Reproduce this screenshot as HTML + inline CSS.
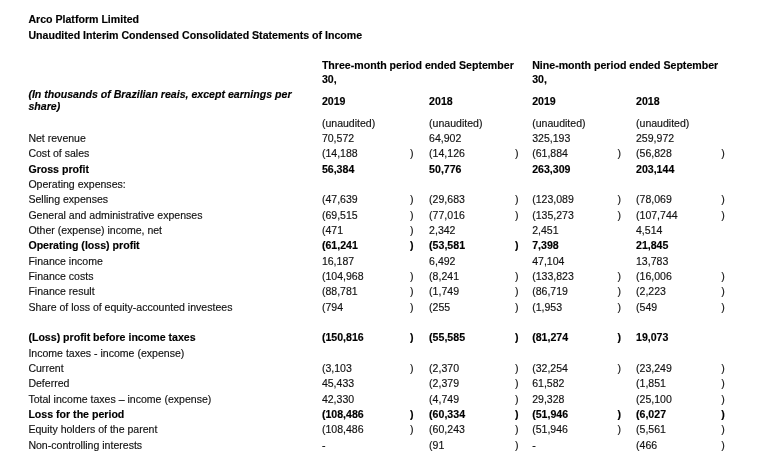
<!DOCTYPE html>
<html><head><meta charset="utf-8"><style>
html,body{margin:0;padding:0;background:#fff;}
body{width:763px;height:462px;overflow:hidden;position:relative;font-family:"Liberation Sans",Arial,sans-serif;font-size:10.56px;line-height:12px;color:#111;}
#w{position:absolute;left:0;top:0;width:763px;height:462px;will-change:transform;-webkit-text-stroke:0.15px #111;color:#111;}
#w div{position:absolute;white-space:nowrap;}
.b{font-weight:bold;font-size:10.6px;-webkit-text-stroke:0.15px #000;color:#000;}
.bi{font-weight:bold;font-style:italic;font-size:10.6px;-webkit-text-stroke:0.15px #000;color:#000;}
</style></head><body><div id="w">
<div class="b" style="left:28.40px;top:13.03px">Arco Platform Limited</div>
<div class="b" style="left:28.40px;top:29.03px">Unaudited Interim Condensed Consolidated Statements of Income</div>
<div class="b" style="left:321.90px;top:59.03px">Three-month period ended September</div>
<div class="b" style="left:321.90px;top:73.03px">30,</div>
<div class="b" style="left:532.20px;top:59.03px">Nine-month period ended September</div>
<div class="b" style="left:532.20px;top:73.03px">30,</div>
<div class="bi" style="left:28.40px;top:88.03px">(In thousands of Brazilian reais, except earnings per</div>
<div class="bi" style="left:28.40px;top:100.03px">share)</div>
<div class="b" style="left:321.90px;top:95.03px">2019</div>
<div class="b" style="left:429.10px;top:95.03px">2018</div>
<div class="b" style="left:532.20px;top:95.03px">2019</div>
<div class="b" style="left:636.00px;top:95.03px">2018</div>
<div style="left:321.90px;top:117.04px">(unaudited)</div>
<div style="left:429.10px;top:117.04px">(unaudited)</div>
<div style="left:532.20px;top:117.04px">(unaudited)</div>
<div style="left:636.00px;top:117.04px">(unaudited)</div>
<div style="left:28.40px;top:132.04px">Net revenue</div>
<div style="left:321.90px;top:132.04px">70,572</div>
<div style="left:429.10px;top:132.04px">64,902</div>
<div style="left:532.20px;top:132.04px">325,193</div>
<div style="left:636.00px;top:132.04px">259,972</div>
<div style="left:28.40px;top:147.04px">Cost of sales</div>
<div style="left:321.90px;top:147.04px">(14,188</div>
<div style="left:410.00px;top:147.04px">)</div>
<div style="left:429.10px;top:147.04px">(14,126</div>
<div style="left:515.00px;top:147.04px">)</div>
<div style="left:532.20px;top:147.04px">(61,884</div>
<div style="left:617.50px;top:147.04px">)</div>
<div style="left:636.00px;top:147.04px">(56,828</div>
<div style="left:721.30px;top:147.04px">)</div>
<div class="b" style="left:28.40px;top:163.03px">Gross profit</div>
<div class="b" style="left:321.90px;top:163.03px">56,384</div>
<div class="b" style="left:429.10px;top:163.03px">50,776</div>
<div class="b" style="left:532.20px;top:163.03px">263,309</div>
<div class="b" style="left:636.00px;top:163.03px">203,144</div>
<div style="left:28.40px;top:178.04px">Operating expenses:</div>
<div style="left:28.40px;top:193.04px">Selling expenses</div>
<div style="left:321.90px;top:193.04px">(47,639</div>
<div style="left:410.00px;top:193.04px">)</div>
<div style="left:429.10px;top:193.04px">(29,683</div>
<div style="left:515.00px;top:193.04px">)</div>
<div style="left:532.20px;top:193.04px">(123,089</div>
<div style="left:617.50px;top:193.04px">)</div>
<div style="left:636.00px;top:193.04px">(78,069</div>
<div style="left:721.30px;top:193.04px">)</div>
<div style="left:28.40px;top:209.04px">General and administrative expenses</div>
<div style="left:321.90px;top:209.04px">(69,515</div>
<div style="left:410.00px;top:209.04px">)</div>
<div style="left:429.10px;top:209.04px">(77,016</div>
<div style="left:515.00px;top:209.04px">)</div>
<div style="left:532.20px;top:209.04px">(135,273</div>
<div style="left:617.50px;top:209.04px">)</div>
<div style="left:636.00px;top:209.04px">(107,744</div>
<div style="left:721.30px;top:209.04px">)</div>
<div style="left:28.40px;top:224.04px">Other (expense) income, net</div>
<div style="left:321.90px;top:224.04px">(471</div>
<div style="left:410.00px;top:224.04px">)</div>
<div style="left:429.10px;top:224.04px">2,342</div>
<div style="left:532.20px;top:224.04px">2,451</div>
<div style="left:636.00px;top:224.04px">4,514</div>
<div class="b" style="left:28.40px;top:239.03px">Operating (loss) profit</div>
<div class="b" style="left:321.90px;top:239.03px">(61,241</div>
<div class="b" style="left:410.00px;top:239.03px">)</div>
<div class="b" style="left:429.10px;top:239.03px">(53,581</div>
<div class="b" style="left:515.00px;top:239.03px">)</div>
<div class="b" style="left:532.20px;top:239.03px">7,398</div>
<div class="b" style="left:636.00px;top:239.03px">21,845</div>
<div style="left:28.40px;top:255.04px">Finance income</div>
<div style="left:321.90px;top:255.04px">16,187</div>
<div style="left:429.10px;top:255.04px">6,492</div>
<div style="left:532.20px;top:255.04px">47,104</div>
<div style="left:636.00px;top:255.04px">13,783</div>
<div style="left:28.40px;top:270.04px">Finance costs</div>
<div style="left:321.90px;top:270.04px">(104,968</div>
<div style="left:410.00px;top:270.04px">)</div>
<div style="left:429.10px;top:270.04px">(8,241</div>
<div style="left:515.00px;top:270.04px">)</div>
<div style="left:532.20px;top:270.04px">(133,823</div>
<div style="left:617.50px;top:270.04px">)</div>
<div style="left:636.00px;top:270.04px">(16,006</div>
<div style="left:721.30px;top:270.04px">)</div>
<div style="left:28.40px;top:285.04px">Finance result</div>
<div style="left:321.90px;top:285.04px">(88,781</div>
<div style="left:410.00px;top:285.04px">)</div>
<div style="left:429.10px;top:285.04px">(1,749</div>
<div style="left:515.00px;top:285.04px">)</div>
<div style="left:532.20px;top:285.04px">(86,719</div>
<div style="left:617.50px;top:285.04px">)</div>
<div style="left:636.00px;top:285.04px">(2,223</div>
<div style="left:721.30px;top:285.04px">)</div>
<div style="left:28.40px;top:301.04px">Share of loss of equity-accounted investees</div>
<div style="left:321.90px;top:301.04px">(794</div>
<div style="left:410.00px;top:301.04px">)</div>
<div style="left:429.10px;top:301.04px">(255</div>
<div style="left:515.00px;top:301.04px">)</div>
<div style="left:532.20px;top:301.04px">(1,953</div>
<div style="left:617.50px;top:301.04px">)</div>
<div style="left:636.00px;top:301.04px">(549</div>
<div style="left:721.30px;top:301.04px">)</div>
<div class="b" style="left:28.40px;top:331.03px">(Loss) profit before income taxes</div>
<div class="b" style="left:321.90px;top:331.03px">(150,816</div>
<div class="b" style="left:410.00px;top:331.03px">)</div>
<div class="b" style="left:429.10px;top:331.03px">(55,585</div>
<div class="b" style="left:515.00px;top:331.03px">)</div>
<div class="b" style="left:532.20px;top:331.03px">(81,274</div>
<div class="b" style="left:617.50px;top:331.03px">)</div>
<div class="b" style="left:636.00px;top:331.03px">19,073</div>
<div style="left:28.40px;top:347.04px">Income taxes - income (expense)</div>
<div style="left:28.40px;top:362.04px">Current</div>
<div style="left:321.90px;top:362.04px">(3,103</div>
<div style="left:410.00px;top:362.04px">)</div>
<div style="left:429.10px;top:362.04px">(2,370</div>
<div style="left:515.00px;top:362.04px">)</div>
<div style="left:532.20px;top:362.04px">(32,254</div>
<div style="left:617.50px;top:362.04px">)</div>
<div style="left:636.00px;top:362.04px">(23,249</div>
<div style="left:721.30px;top:362.04px">)</div>
<div style="left:28.40px;top:377.04px">Deferred</div>
<div style="left:321.90px;top:377.04px">45,433</div>
<div style="left:429.10px;top:377.04px">(2,379</div>
<div style="left:515.00px;top:377.04px">)</div>
<div style="left:532.20px;top:377.04px">61,582</div>
<div style="left:636.00px;top:377.04px">(1,851</div>
<div style="left:721.30px;top:377.04px">)</div>
<div style="left:28.40px;top:393.04px">Total income taxes – income (expense)</div>
<div style="left:321.90px;top:393.04px">42,330</div>
<div style="left:429.10px;top:393.04px">(4,749</div>
<div style="left:515.00px;top:393.04px">)</div>
<div style="left:532.20px;top:393.04px">29,328</div>
<div style="left:636.00px;top:393.04px">(25,100</div>
<div style="left:721.30px;top:393.04px">)</div>
<div class="b" style="left:28.40px;top:408.03px">Loss for the period</div>
<div class="b" style="left:321.90px;top:408.03px">(108,486</div>
<div class="b" style="left:410.00px;top:408.03px">)</div>
<div class="b" style="left:429.10px;top:408.03px">(60,334</div>
<div class="b" style="left:515.00px;top:408.03px">)</div>
<div class="b" style="left:532.20px;top:408.03px">(51,946</div>
<div class="b" style="left:617.50px;top:408.03px">)</div>
<div class="b" style="left:636.00px;top:408.03px">(6,027</div>
<div class="b" style="left:721.30px;top:408.03px">)</div>
<div style="left:28.40px;top:423.04px">Equity holders of the parent</div>
<div style="left:321.90px;top:423.04px">(108,486</div>
<div style="left:410.00px;top:423.04px">)</div>
<div style="left:429.10px;top:423.04px">(60,243</div>
<div style="left:515.00px;top:423.04px">)</div>
<div style="left:532.20px;top:423.04px">(51,946</div>
<div style="left:617.50px;top:423.04px">)</div>
<div style="left:636.00px;top:423.04px">(5,561</div>
<div style="left:721.30px;top:423.04px">)</div>
<div style="left:28.40px;top:439.04px">Non-controlling interests</div>
<div style="left:321.90px;top:439.04px">-</div>
<div style="left:429.10px;top:439.04px">(91</div>
<div style="left:515.00px;top:439.04px">)</div>
<div style="left:532.20px;top:439.04px">-</div>
<div style="left:636.00px;top:439.04px">(466</div>
<div style="left:721.30px;top:439.04px">)</div>
</div></body></html>
